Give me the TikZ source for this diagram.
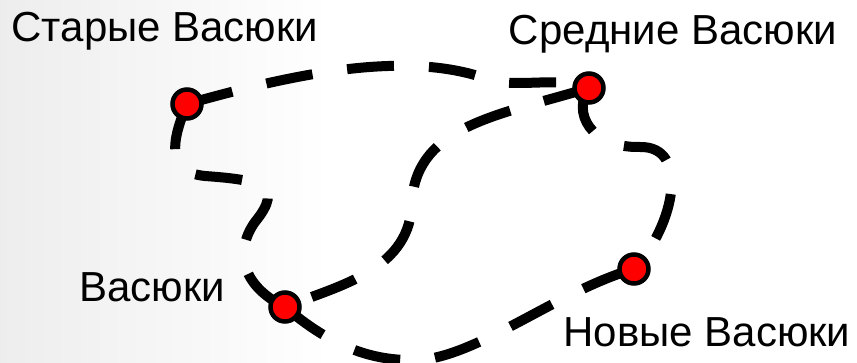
\documentclass[tikz,border=0pt]{standalone}
\usepackage{fontspec}
\setmainfont{Liberation Sans}
\usetikzlibrary{backgrounds}

\begin{document}
\begin{tikzpicture}[x=1pt, y=-1pt,
		road/.style={line width=10pt, dash pattern=on 47pt off 35pt},
		town/.style={circle, draw=black, fill=red, line width=4.5pt, minimum size=29pt, inner sep=0pt},
		townname/.style={anchor=base, inner sep=0pt, font=\fontsize{42}{50}\selectfont}]
				\useasboundingbox (0,0) rectangle (857,363);

				\node[town] (old) at (187,104) {};
				\node[town] (mid) at (589,88) {};
				\node[town] (vas) at (285,307) {};
				\node[town] (new) at (634,269) {};

				\node[townname] (oldname) at (165,42) {Старые Васюки};
				\node[townname] (midname) at (673,45) {Средние Васюки};
				\node[townname] (vasname) at (152,302) {Васюки};
				\node[townname] (newname) at (707,347) {Новые Васюки};

				\begin{scope}[on background layer]
					\shade[left color=black!7, right color=white] (0,0) rectangle (330,363);

					\draw[road] (old.center) .. controls (300,72) and (410,50) .. (490,80) .. controls (520,88) and (560,76) .. (mid.center);
					\draw[road] (mid.center) .. controls (500,115) and (418,125) .. (412,200) .. controls (412,270) and (340,285) .. (vas.center);
					\draw[road] (old.center) .. controls (172,140) and (165,172) .. (205,176) .. controls (260,180) and (285,185) .. (255,222) .. controls (235,250) and (240,285) .. (vas.center);
					\draw[road] (vas.center) .. controls (330,345) and (370,362) .. (420,360) .. controls (480,355) and (560,290) .. (new.center);
					\draw[road] (mid.center) .. controls (572,112) and (590,148) .. (640,147) .. controls (690,146) and (675,225) .. (new.center);
				\end{scope}
			\end{tikzpicture}
\end{document}
